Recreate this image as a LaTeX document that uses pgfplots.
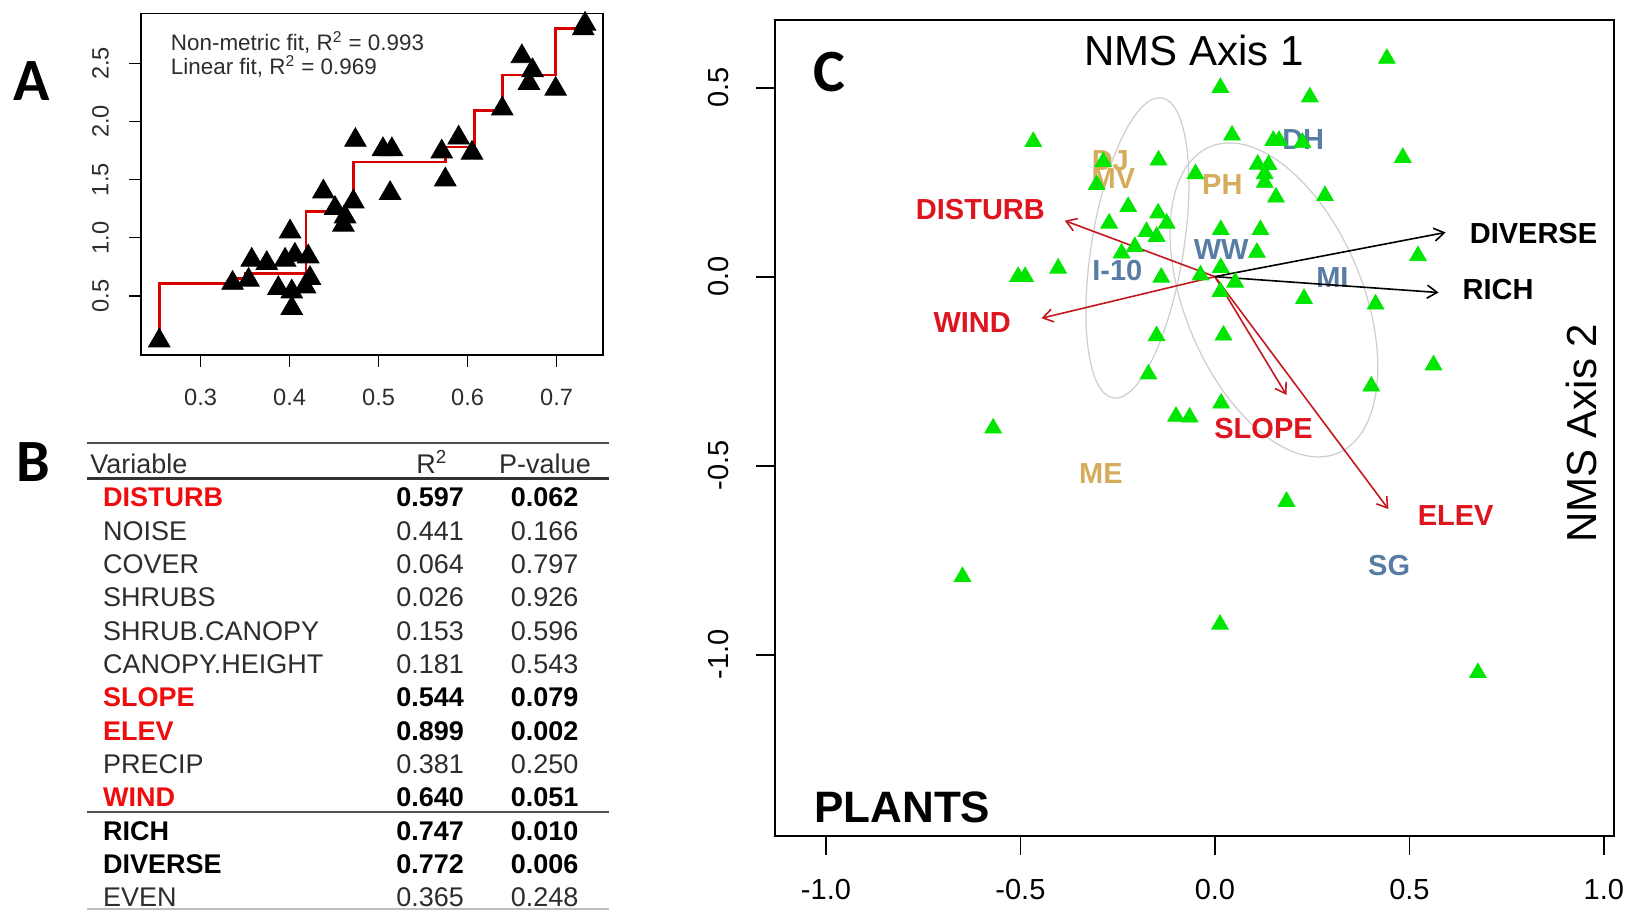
\documentclass[border=0pt]{standalone}
\usepackage{pgfplots}
\pgfplotsset{compat=1.18}
\usepackage{fontspec}
\setmainfont{Liberation Sans}
\newfontfamily\carlito{Carlito}
\usetikzlibrary{arrows.meta}
\definecolor{ptgreen}{RGB}{0,230,0}
\definecolor{lblred}{RGB}{222,20,30}
\definecolor{arrred}{RGB}{195,25,30}
\definecolor{sitetan}{RGB}{214,172,92}
\definecolor{steel}{RGB}{88,124,164}
\definecolor{tabred}{RGB}{240,12,12}
\definecolor{elgray}{RGB}{205,205,205}
\definecolor{txtgray}{RGB}{45,45,45}
\definecolor{rulegray}{RGB}{80,80,80}
\newcommand{\fs}[1]{\fontsize{#1}{#1}\selectfont}
% table row: index, font, name colour, name, r2, p, number colour
\newcommand{\trow}[7]{%
  \pgfmathsetmacro{\yb}{206.35-16.667*#1-4.83}%
  \node[anchor=base west, inner sep=0pt, font=#2, text=#3] at (51.4pt,\yb pt) {#4};%
  \node[anchor=base east, inner sep=0pt, font=#2, text=#7] at (232.2pt,\yb pt) {#5};%
  \node[anchor=base east, inner sep=0pt, font=#2, text=#7] at (289.4pt,\yb pt) {#6};%
}

\begin{document}
\begin{tikzpicture}
\useasboundingbox (0,0) rectangle (813.5pt,455pt);

% ---------------- Panel A ----------------
\begin{axis}[
  at={(70.5pt,277.5pt)}, anchor=south west,
  scale only axis, width=231pt, height=170.75pt,
  xmin=0.2331, xmax=0.7522, ymin=-0.009, ymax=2.93,
  xtick={0.3,0.4,0.5,0.6,0.7}, xticklabels={0.3,0.4,0.5,0.6,0.7},
  ytick={0.5,1,1.5,2,2.5}, yticklabels={0.5,1.0,1.5,2.0,2.5},
  xtick pos=left, ytick pos=left,
  tick align=outside, major tick length=6pt,
  tick style={black, line width=0.7pt},
  axis line style={line width=0.8pt},
  xticklabel style={font=\fs{11.8}, text=txtgray, anchor=center, inner sep=0pt},
  yticklabel style={font=\fs{11.8}, text=txtgray, anchor=center, inner sep=0pt, rotate=90},
  xticklabel shift=15pt, yticklabel shift=14.3pt,
  clip=false,
]
\addplot[only marks, mark=triangle*, mark size=6.2pt, black] coordinates {
(0.2536,0.114) (0.336,0.61) (0.354,0.636) (0.3575,0.809) (0.3744,0.780)
(0.3874,0.565) (0.395,0.809) (0.4006,1.052) (0.4025,0.536) (0.4025,0.393)
(0.406,0.852) (0.4174,0.579) (0.421,0.837) (0.423,0.651) (0.438,1.396)
(0.4511,1.254) (0.4605,1.110) (0.4624,1.181) (0.4717,1.31) (0.474,1.84)
(0.505,1.76) (0.515,1.76) (0.513,1.383) (0.571,1.74) (0.575,1.50)
(0.590,1.86) (0.605,1.73) (0.639,2.11) (0.661,2.56) (0.669,2.33)
(0.673,2.44) (0.699,2.28) (0.730,2.80) (0.732,2.84)
};
\addplot[red!85!black, line width=1.3pt] coordinates {
(0.2536,0.114) (0.2536,0.605) (0.336,0.605) (0.336,0.65) (0.350,0.65)
(0.350,0.694) (0.4185,0.694) (0.4185,1.224) (0.461,1.224) (0.461,1.267)
(0.466,1.267) (0.466,1.31) (0.4717,1.31) (0.4717,1.652) (0.5755,1.652)
(0.5755,1.782) (0.6075,1.782) (0.6075,2.097) (0.6395,2.097) (0.6395,2.40)
(0.699,2.40) (0.699,2.80) (0.732,2.80)
};
\node[anchor=west, font=\fs{11.2}, text=txtgray, inner sep=0pt] at (rel axis cs:0.064,0.914) {Non-metric fit, R\textsuperscript{2} = 0.993};
\node[anchor=west, font=\fs{11.2}, text=txtgray, inner sep=0pt] at (rel axis cs:0.064,0.844) {Linear fit, R\textsuperscript{2} = 0.969};
\end{axis}

% ---------------- Panel C ----------------
\begin{axis}[
  at={(387.5pt,37.15pt)}, anchor=south west,
  scale only axis, width=419.5pt, height=407.85pt,
  xmin=-1.131, xmax=1.026, ymin=-1.479, ymax=0.679,
  xtick={-1,-0.5,0,0.5,1}, xticklabels={-1.0,-0.5,0.0,0.5,1.0},
  ytick={-1,-0.5,0,0.5}, yticklabels={-1.0,-0.5,0.0,0.5},
  xtick pos=left, ytick pos=left,
  tick align=outside, major tick length=9.5pt,
  tick style={black, line width=0.9pt},
  axis line style={line width=1pt},
  xticklabel style={font=\fs{14.5}, anchor=center, inner sep=0pt},
  yticklabel style={font=\fs{14.5}, anchor=center, inner sep=0pt, rotate=90},
  xticklabel shift=17.5pt, yticklabel shift=18.5pt,
]
% group ellipses
\draw[elgray, line width=0.6pt] (axis cs:-0.1992,0.0759) ellipse [x radius=76pt, y radius=23pt, rotate=80.8];
\draw[elgray, line width=0.6pt] (axis cs:0.1517,-0.0616) ellipse [x radius=83pt, y radius=44.4pt, rotate=112.6];
% site labels
\node[font=\fs{14.5}\bfseries, text=sitetan] at (axis cs:-0.269,0.307) {DJ};
\node[font=\fs{14.5}\bfseries, text=sitetan] at (axis cs:-0.261,0.260) {MV};
\node[font=\fs{14.5}\bfseries, text=sitetan] at (axis cs:0.019,0.243) {PH};
\node[font=\fs{14.5}\bfseries, text=sitetan] at (axis cs:-0.293,-0.520) {ME};
\node[font=\fs{14.5}\bfseries, text=steel] at (axis cs:0.227,0.362) {DH};
\node[font=\fs{14.5}\bfseries, text=steel] at (axis cs:0.016,0.073) {WW};
\node[font=\fs{14.5}\bfseries, text=steel] at (axis cs:-0.251,0.016) {I-10};
\node[font=\fs{14.5}\bfseries, text=steel] at (axis cs:0.302,-0.003) {MI};
\node[font=\fs{14.5}\bfseries, text=steel] at (axis cs:0.448,-0.764) {SG};
% plots
\addplot[only marks, mark=triangle*, mark size=4.8pt, color=ptgreen] coordinates {
(0.442,0.577) (0.014,0.500) (0.244,0.475) (-0.467,0.357) (0.044,0.374)
(0.150,0.360) (0.165,0.360) (0.225,0.355) (0.483,0.315) (-0.287,0.304)
(-0.304,0.243) (-0.145,0.308) (-0.050,0.272) (0.110,0.297) (0.138,0.296)
(0.128,0.272) (0.128,0.249) (0.157,0.210) (0.283,0.214) (-0.223,0.185)
(-0.272,0.141) (-0.146,0.168) (-0.124,0.141) (-0.176,0.119) (-0.150,0.106)
(-0.206,0.079) (-0.240,0.062) (0.015,0.124) (0.117,0.124) (0.108,0.064)
(0.522,0.055) (-0.506,0.0) (-0.488,0.0) (-0.403,0.022) (-0.138,-0.002)
(-0.037,0.004) (0.015,0.024) (0.052,-0.015) (0.014,-0.040) (0.229,-0.058)
(0.413,-0.073) (-0.150,-0.157) (0.022,-0.155) (0.562,-0.234) (-0.171,-0.258)
(0.402,-0.290) (0.016,-0.335) (-0.100,-0.370) (-0.065,-0.372) (-0.570,-0.401)
(0.184,-0.595) (-0.649,-0.794) (0.013,-0.920) (0.676,-1.048)
};
% vectors
\addplot[arrred, line width=0.8pt, -{Straight Barb[length=5pt,width=6.5pt]}] coordinates {(0,0) (-0.386,0.148)};
\addplot[arrred, line width=0.8pt, -{Straight Barb[length=5pt,width=6.5pt]}] coordinates {(0,0) (-0.446,-0.110)};
\addplot[arrred, line width=0.8pt, -{Straight Barb[length=5pt,width=6.5pt]}] coordinates {(0,0) (0.184,-0.313)};
\addplot[arrred, line width=0.8pt, -{Straight Barb[length=5pt,width=6.5pt]}] coordinates {(0,0) (0.446,-0.615)};
\addplot[black, line width=0.8pt, -{Straight Barb[length=5pt,width=6.5pt]}] coordinates {(0,0) (0.593,0.117)};
\addplot[black, line width=0.8pt, -{Straight Barb[length=5pt,width=6.5pt]}] coordinates {(0,0) (0.575,-0.042)};
% vector labels
\node[font=\fs{14.5}\bfseries, text=lblred] at (axis cs:-0.603,0.178) {DISTURB};
\node[font=\fs{14.5}\bfseries, text=lblred] at (axis cs:-0.624,-0.122) {WIND};
\node[font=\fs{14.5}\bfseries, text=lblred] at (axis cs:0.125,-0.402) {SLOPE};
\node[font=\fs{14.5}\bfseries, text=lblred] at (axis cs:0.619,-0.632) {ELEV};
\node[font=\fs{14.5}\bfseries, text=black] at (axis cs:0.819,0.115) {DIVERSE};
\node[font=\fs{14.5}\bfseries, text=black] at (axis cs:0.728,-0.034) {RICH};
\end{axis}

% titles inside panel C
\node[font=\fs{21}] at (597pt,429.65pt) {NMS Axis 1};
\node[font=\fs{21}, rotate=90] at (790.85pt,238.35pt) {NMS Axis 2};
\node[font=\fs{22}\bfseries] at (451.15pt,51.35pt) {PLANTS};

% panel letters
\node[font=\carlito\fs{30}\bfseries] at (16pt,414.6pt) {A};
\node[font=\carlito\fs{30}\bfseries] at (16.5pt,224.2pt) {B};
\node[font=\carlito\fs{30}\bfseries] at (414.5pt,419.15pt) {C};

% ---------------- Panel B table ----------------
\draw[rulegray, line width=1pt] (43.5pt,233.5pt) -- (304.5pt,233.5pt);
\draw[black!80, line width=1.5pt] (43.5pt,215.5pt) -- (304.5pt,215.5pt);
\draw[rulegray, line width=1pt] (43.5pt,49.15pt) -- (304.5pt,49.15pt);
\draw[black!25, line width=0.8pt] (43.5pt,0.5pt) -- (304.5pt,0.5pt);
\node[anchor=base west, inner sep=0pt, font=\fs{13.5}, text=txtgray] at (45pt,218.17pt) {Variable};
\node[anchor=base, inner sep=0pt, font=\fs{13.5}, text=txtgray] at (215.9pt,218.17pt) {R\textsuperscript{2}};
\node[anchor=base, inner sep=0pt, font=\fs{13.5}, text=txtgray] at (272.5pt,218.17pt) {P-value};
\trow{0}{\fs{13.5}\bfseries}{tabred}{DISTURB}{0.597}{0.062}{black}
\trow{1}{\fs{13.5}}{txtgray}{NOISE}{0.441}{0.166}{txtgray}
\trow{2}{\fs{13.5}}{txtgray}{COVER}{0.064}{0.797}{txtgray}
\trow{3}{\fs{13.5}}{txtgray}{SHRUBS}{0.026}{0.926}{txtgray}
\trow{4}{\fs{13.5}}{txtgray}{SHRUB.CANOPY}{0.153}{0.596}{txtgray}
\trow{5}{\fs{13.5}}{txtgray}{CANOPY.HEIGHT}{0.181}{0.543}{txtgray}
\trow{6}{\fs{13.5}\bfseries}{tabred}{SLOPE}{0.544}{0.079}{black}
\trow{7}{\fs{13.5}\bfseries}{tabred}{ELEV}{0.899}{0.002}{black}
\trow{8}{\fs{13.5}}{txtgray}{PRECIP}{0.381}{0.250}{txtgray}
\trow{9}{\fs{13.5}\bfseries}{tabred}{WIND}{0.640}{0.051}{black}
\trow{10}{\fs{13.5}\bfseries}{black}{RICH}{0.747}{0.010}{black}
\trow{11}{\fs{13.5}\bfseries}{black}{DIVERSE}{0.772}{0.006}{black}
\trow{12}{\fs{13.5}}{txtgray}{EVEN}{0.365}{0.248}{txtgray}
\end{tikzpicture}
\end{document}
